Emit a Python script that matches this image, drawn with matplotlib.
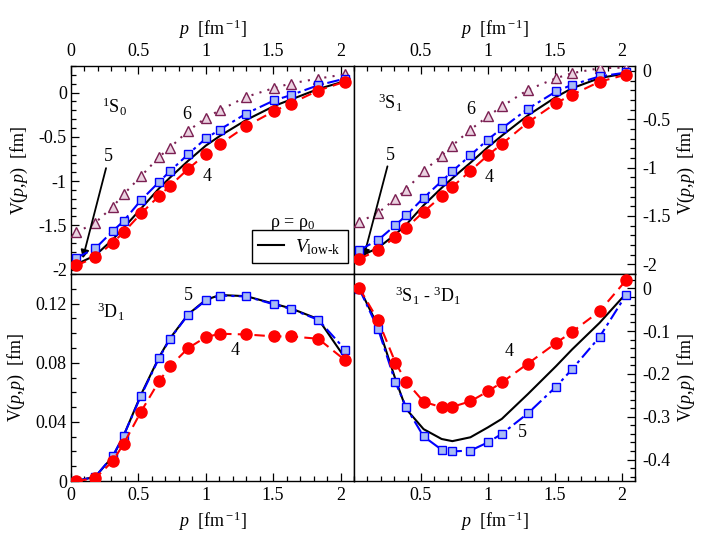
import matplotlib
matplotlib.use("Agg")
import matplotlib.pyplot as plt
from matplotlib.ticker import MultipleLocator, FuncFormatter
from matplotlib.lines import Line2D

plt.rcParams["font.family"] = ["Liberation Serif", "DejaVu Serif"]
plt.rcParams["mathtext.fontset"] = "custom"
plt.rcParams["mathtext.rm"] = "Liberation Serif"
plt.rcParams["mathtext.it"] = "Liberation Serif:italic"
plt.rcParams["axes.unicode_minus"] = False

# momentum grid (fm^-1)
p = [0.04, 0.18, 0.31, 0.39, 0.52, 0.655, 0.735, 0.87, 1.0, 1.105,
     1.30, 1.51, 1.63, 1.835, 2.035]

# 1S0
s0_lowk = [-1.94, -1.84, -1.66, -1.53, -1.31, -1.08, -0.96, -0.77, -0.60, -0.49,
           -0.31, -0.15, -0.08, 0.04, 0.13]
s0_n4 = [-1.953, -1.862, -1.697, -1.58, -1.366, -1.166, -1.053, -0.862, -0.696, -0.583,
         -0.38, -0.207, -0.124, 0.023, 0.124]
s0_n5 = [-1.866, -1.761, -1.565, -1.452, -1.215, -1.008, -0.888, -0.696, -0.519, -0.418,
         -0.237, -0.087, -0.03, 0.083, 0.158]
s0_n6 = [-1.58, -1.471, -1.29, -1.151, -0.944, -0.726, -0.621, -0.433, -0.286, -0.199,
         -0.049, 0.053, 0.102, 0.158, 0.207]

# 3S1
s1_lowk = [-1.92, -1.83, -1.69, -1.59, -1.39, -1.21, -1.11, -0.95, -0.79, -0.67,
           -0.46, -0.27, -0.18, -0.075, -0.025]
s1_n4 = [-1.942, -1.856, -1.715, -1.625, -1.457, -1.296, -1.199, -1.034, -0.873, -0.756,
         -0.533, -0.333, -0.247, -0.113, -0.038]
s1_n5 = [-1.852, -1.749, -1.595, -1.495, -1.313, -1.141, -1.038, -0.873, -0.711, -0.595,
         -0.392, -0.213, -0.144, -0.058, -0.017]
s1_n6 = [-1.564, -1.467, -1.323, -1.227, -1.038, -0.876, -0.773, -0.608, -0.471, -0.368,
         -0.196, -0.076, -0.024, 0.027, 0.034]

# 3D1
d1_lowk = [0.0, 0.0029, 0.0165, 0.0305, 0.0585, 0.0840, 0.0965, 0.1128, 0.1225, 0.1258,
           0.1250, 0.1198, 0.1168, 0.1095, 0.083]
d1_n4 = [0.0, 0.0018, 0.0135, 0.025, 0.047, 0.0677, 0.0776, 0.0899, 0.0973, 0.0996,
         0.0991, 0.0978, 0.0978, 0.0962, 0.0816]
d1_n5 = [0.0, 0.0029, 0.0169, 0.0306, 0.0578, 0.0834, 0.0962, 0.1126, 0.1221, 0.1254,
         0.1248, 0.1194, 0.1164, 0.109, 0.0888]

# 3S1 - 3D1
sd_lowk = [0.0, -0.089, -0.213, -0.282, -0.329, -0.352, -0.357, -0.348, -0.325, -0.305,
           -0.247, -0.182, -0.143, -0.081, -0.012]
sd_n4 = [0.0, -0.075, -0.174, -0.218, -0.265, -0.278, -0.277, -0.264, -0.241, -0.220,
         -0.176, -0.128, -0.102, -0.054, 0.019]
sd_n5 = [-0.002, -0.095, -0.220, -0.278, -0.346, -0.377, -0.381, -0.379, -0.360, -0.340,
         -0.292, -0.230, -0.189, -0.114, -0.015]

RED = "#ff0000"
BLUE = "#0000ff"
MAROON = "#7b1f52"


def draw(ax, lowk, n4, n5, n6=None):
    if n6 is not None:
        ax.plot(p, n6, color=MAROON, ls=(0, (1, 3)), lw=1.5, marker="^", ms=7,
                mfc="#ead2e0", mec=MAROON, mew=1.0, zorder=3)
    ax.plot(p, lowk, color="black", lw=1.5, zorder=2)
    ax.plot(p, n5, color=BLUE, ls=(0, (6, 2, 1.5, 2)), lw=1.5, marker="s", ms=5.5,
            mfc="#a8bcf4", mec=BLUE, mew=1.0, zorder=4)
    ax.plot(p, n4, color=RED, ls=(0, (5, 3)), lw=1.5, marker="o", ms=8,
            mfc=RED, mec=RED, zorder=5)


fmt = FuncFormatter(lambda v, pos: "%g" % round(v, 6))

fig = plt.figure(figsize=(7.08, 5.47), dpi=100)
L, M, R = 71 / 708, 354 / 708, 635 / 708
T, H, B = 1 - 66 / 547, 1 - 274 / 547, 1 - 481 / 547
ax1 = fig.add_axes([L, H, M - L, T - H])
ax2 = fig.add_axes([M, H, R - M, T - H])
ax3 = fig.add_axes([L, B, M - L, H - B])
ax4 = fig.add_axes([M, B, R - M, H - B])

draw(ax1, s0_lowk, s0_n4, s0_n5, s0_n6)
draw(ax2, s1_lowk, s1_n4, s1_n5, s1_n6)
draw(ax3, d1_lowk, d1_n4, d1_n5)
draw(ax4, sd_lowk, sd_n4, sd_n5)

ax1.set_ylim(-2.05, 0.3)
ax2.set_ylim(-2.1, 0.05)
ax3.set_ylim(0, 0.14)
ax4.set_ylim(-0.45, 0.033)

xlab = r"$p$  [fm$^{\rm -1}$]"
ylab = r"V($p$,$p$)  [fm]"
fs = 13

for ax in (ax1, ax2, ax3, ax4):
    ax.set_xlim(0, 2.1)
    ax.xaxis.set_minor_locator(MultipleLocator(0.1))
    ax.xaxis.set_major_formatter(fmt)
    ax.yaxis.set_major_formatter(fmt)
    ax.tick_params(which="both", direction="in", labelsize=fs,
                   top=False, bottom=False, left=False, right=False)
    ax.tick_params(which="major", length=6, width=0.9)
    ax.tick_params(which="minor", length=3.5, width=0.9)
    for s in ax.spines.values():
        s.set_linewidth(1.0)

for ax in (ax2, ax4):
    ax.set_xticks([0.5, 1, 1.5, 2])
for ax in (ax1, ax3):
    ax.set_xticks([0, 0.5, 1, 1.5, 2])

ax1.set_yticks([0, -0.5, -1, -1.5, -2])
ax2.set_yticks([0, -0.5, -1, -1.5, -2])
for ax in (ax1, ax2):
    ax.yaxis.set_minor_locator(MultipleLocator(0.1))
    ax.xaxis.set_label_position("top")
    ax.tick_params(axis="x", which="both", top=True, labeltop=True,
                   labelbottom=False, pad=4)
    ax.set_xlabel(xlab, fontsize=fs, labelpad=6)
ax3.set_yticks([0, 0.04, 0.08, 0.12])
ax3.yaxis.set_minor_locator(MultipleLocator(0.01))
ax4.set_yticks([0, -0.1, -0.2, -0.3, -0.4])
ax4.yaxis.set_minor_locator(MultipleLocator(0.02))
for ax in (ax3, ax4):
    ax.tick_params(axis="x", which="both", bottom=True, labelbottom=True, pad=4)
    ax.set_xlabel(xlab, fontsize=fs, labelpad=4)

for ax in (ax1, ax3):
    ax.tick_params(axis="y", which="both", left=True, labelleft=True, pad=3)
    ax.set_ylabel(ylab, fontsize=fs, labelpad=6)
for ax in (ax2, ax4):
    ax.yaxis.set_label_position("right")
    ax.tick_params(axis="y", which="both", right=True, labelright=True,
                   labelleft=False, pad=5)
    ax.set_ylabel(ylab, fontsize=fs, labelpad=4)

tfs = 13
# 1S0 panel
ax1.text(0.23, -0.23, r"$^1$S$_0$", fontsize=tfs)
ax1.text(0.858, -0.248, "6", fontsize=tfs, ha="center", va="center")
ax1.text(1.007, -0.953, "4", fontsize=tfs, ha="center", va="center")
ax1.text(0.277, -0.727, "5", fontsize=tfs, ha="center", va="center")
ax1.annotate("", xy=(0.087, -1.874), xytext=(0.26, -0.854),
             arrowprops=dict(arrowstyle="-|>", color="black", lw=1.3,
                             mutation_scale=12, shrinkA=0, shrinkB=0))
ax1.text(1.476, -1.515, r"ρ = ρ$_0$", fontsize=tfs)
ax1.legend(handles=[Line2D([], [], color="black", lw=1.5)],
           labels=[r"$V_{\rm low\text{-}k}$"], loc="lower left",
           bbox_to_anchor=(0.638, 0.051), borderaxespad=0, fontsize=14,
           frameon=True, fancybox=False, edgecolor="black", framealpha=1,
           handlelength=1.3, handletextpad=0.6, borderpad=0.35)
ax1.get_legend().get_frame().set_linewidth(1.0)

# 3S1 panel
ax2.text(0.18, -0.40, r"$^3$S$_1$", fontsize=tfs)
ax2.text(0.869, -0.402, "6", fontsize=tfs, ha="center", va="center")
ax2.text(1.013, -1.106, "4", fontsize=tfs, ha="center", va="center")
ax2.text(0.27, -0.873, "5", fontsize=tfs, ha="center", va="center")
ax2.annotate("", xy=(0.071, -1.931), xytext=(0.25, -0.987),
             arrowprops=dict(arrowstyle="-|>", color="black", lw=1.3,
                             mutation_scale=12, shrinkA=0, shrinkB=0))

# 3D1 panel
ax3.text(0.19, 0.110, r"$^3$D$_1$", fontsize=tfs)
ax3.text(0.87, 0.1255, "5", fontsize=tfs, ha="center", va="center")
ax3.text(1.217, 0.0884, "4", fontsize=tfs, ha="center", va="center")

# 3S1-3D1 panel
ax4.text(0.31, -0.034, r"$^3$S$_1$ - $^3$D$_1$", fontsize=tfs)
ax4.text(1.161, -0.147, "4", fontsize=tfs, ha="center", va="center")
ax4.text(1.26, -0.336, "5", fontsize=tfs, ha="center", va="center")

fig.savefig("out.png", dpi=100)
